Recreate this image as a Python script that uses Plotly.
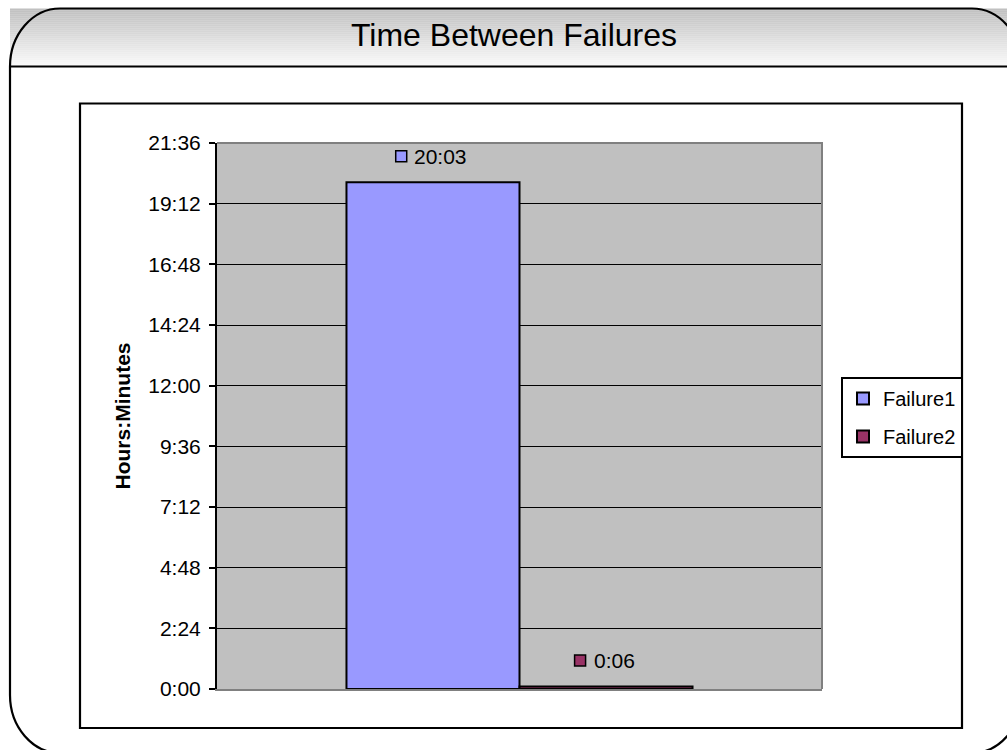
import plotly.graph_objects as go

# ---- data ----
series_names = ["Failure1", "Failure2"]
series_minutes = [1203, 6]            # 20:03 and 0:06 in minutes
series_labels = ["20:03", "0:06"]
series_colors = ["#9999FF", "#993366"]
tick_minutes = [0, 144, 288, 432, 576, 720, 864, 1008, 1152, 1296]
tick_labels = ["0:00", "2:24", "4:48", "7:12", "9:36", "12:00", "14:24", "16:48", "19:12", "21:36"]
title_text = "Time Between Failures"
y_title = "Hours:Minutes"

W, H = 1007, 750
PL, PR, PT, PB = 217, 822, 143, 689   # plot area in pixels
BARGAP = 0.428
FONT = "Arial, Liberation Sans, sans-serif"


def px(x):
    return (x - PL) / (PR - PL)


def py(y):
    return (PB - y) / (PB - PT)


fig = go.Figure()
for name, val, col in zip(series_names, series_minutes, series_colors):
    fig.add_trace(go.Bar(
        x=[0], y=[val], name=name, legendgroup=name,
        marker=dict(color=col, line=dict(color="black", width=2)),
        hoverinfo="skip",
    ))

shapes = []
# title bar gradient
y0, y1 = 8.5, 66.5
n = 29
for i in range(n):
    ya = y0 + (y1 - y0) * i / n
    yb = y0 + (y1 - y0) * (i + 1) / n
    g = int(192 + (250 - 192) * i / (n - 1))
    shapes.append(dict(type="rect", xref="paper", yref="paper",
                       x0=px(10), x1=px(1010), y0=py(ya), y1=py(yb + 0.3),
                       fillcolor=f"rgb({g},{g},{g})", line=dict(width=0), layer="below"))

# outer rounded frame
L, T, R, B = 10, 8.5, 1022, 753
rx, ry = 50, 58
k = 0.55


def P(x, y):
    return f"{px(x):.5f},{py(y):.5f}"


frame = (
    f"M {P(L, T + ry)} C {P(L, T + ry - k * ry)} {P(L + rx - k * rx, T)} {P(L + rx, T)} "
    f"L {P(R - rx, T)} C {P(R - rx + k * rx, T)} {P(R, T + ry - k * ry)} {P(R, T + ry)} "
    f"L {P(R, B - ry)} C {P(R, B - ry + k * ry)} {P(R - rx + k * rx, B)} {P(R - rx, B)} "
    f"L {P(L + rx, B)} C {P(L + rx - k * rx, B)} {P(L, B - ry + k * ry)} {P(L, B - ry)} Z"
)
shapes.append(dict(type="path", xref="paper", yref="paper", path=frame,
                   line=dict(color="black", width=2.2), layer="below"))
# title separator
shapes.append(dict(type="line", xref="paper", yref="paper",
                   x0=px(10), x1=px(1010), y0=py(66.5), y1=py(66.5),
                   line=dict(color="black", width=2.2), layer="below"))
# inner chart box
shapes.append(dict(type="rect", xref="paper", yref="paper",
                   x0=px(80), x1=px(962), y0=py(103.5), y1=py(728),
                   line=dict(color="black", width=2.2), layer="below"))
# plot border top + right (gray)
shapes.append(dict(type="path", xref="paper", yref="paper",
                   path=f"M 0,1 L 1,1 L 1,0",
                   line=dict(color="#808080", width=2), layer="above"))

# data labels with legend-key squares
group_w = 1 - BARGAP
bar_w = group_w / len(series_names)
annotations = []
for i, (val, lab, col) in enumerate(zip(series_minutes, series_labels, series_colors)):
    xc = -group_w / 2 + bar_w * (i + 0.5)
    annotations.append(dict(x=xc, y=val, xref="x", yref="y", text=lab, showarrow=False,
                            xanchor="center", yanchor="middle", xshift=8, yshift=26,
                            font=dict(family=FONT, size=21, color="black")))
    widths = {":": 0.278}
    tw = sum(widths.get(c, 0.556) for c in lab) * 21
    right = 8 - tw / 2 - 8
    shapes.append(dict(type="rect", xref="x", yref="y",
                       xsizemode="pixel", xanchor=xc, x0=right - 11, x1=right,
                       ysizemode="pixel", yanchor=val, y0=20.5, y1=31.5,
                       fillcolor=col, line=dict(color="black", width=1.5), layer="above"))

fig.update_layout(
    width=W, height=H,
    margin=dict(l=PL, r=W - PR, t=PT, b=H - PB, pad=0),
    paper_bgcolor="white", plot_bgcolor="#C0C0C0",
    barmode="group", bargap=BARGAP, bargroupgap=0,
    showlegend=True,
    title=dict(text=title_text, x=514 / W, xanchor="center", y=1 - 35 / H, yanchor="middle",
               font=dict(family=FONT, size=32, color="black")),
    legend=dict(x=px(841), y=py(377), xanchor="left", yanchor="top",
                bgcolor="white", bordercolor="black", borderwidth=2,
                font=dict(family=FONT, size=20, color="black"),
                traceorder="grouped", tracegroupgap=9),
    xaxis=dict(range=[-0.5, 0.5], showticklabels=False, ticks="", showgrid=False,
               zeroline=False, showline=True, linecolor="#808080", linewidth=2, fixedrange=True),
    yaxis=dict(range=[0, 1296], tickvals=tick_minutes, ticktext=tick_labels,
               ticks="outside", ticklen=6, tickwidth=2, tickcolor="black",
               ticklabelstandoff=4,
               showline=True, linecolor="black", linewidth=2,
               showgrid=True, gridcolor="black", gridwidth=1, zeroline=False,
               tickfont=dict(family=FONT, size=21, color="black"),
               title=dict(text=f"<b>{y_title}</b>", standoff=12,
                          font=dict(family=FONT, size=21, color="black")),
               fixedrange=True),
    shapes=shapes,
    annotations=annotations,
)

fig.write_html("out.html", config={"displayModeBar": False},
               post_script="document.body.style.margin='0';document.body.style.overflow='hidden';")
